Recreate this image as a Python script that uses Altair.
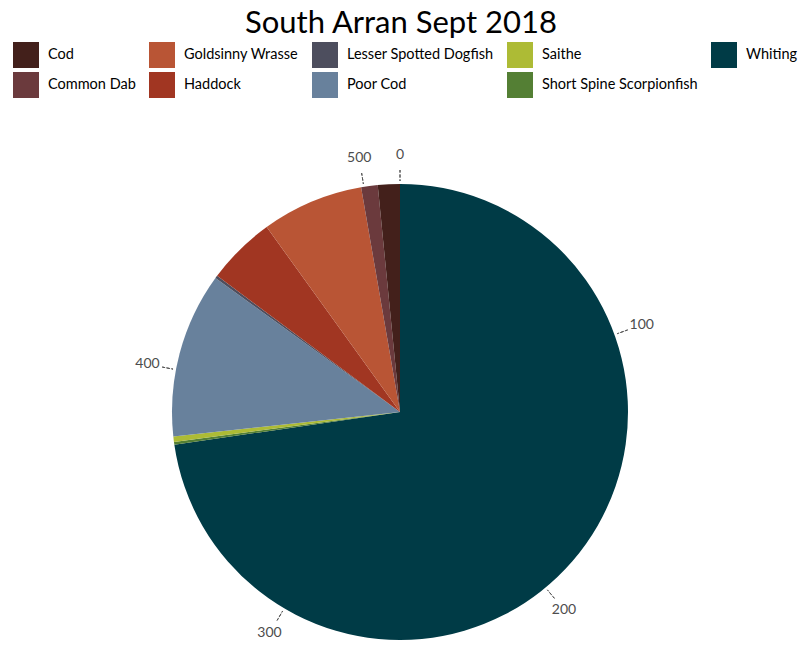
import altair as alt
import pandas as pd

species = ["Whiting", "Short Spine Scorpionfish", "Saithe", "Poor Cod",
           "Lesser Spotted Dogfish", "Haddock", "Goldsinny Wrasse", "Common Dab", "Cod"]
counts = [373, 1, 2, 60, 1, 25, 37, 6, 8]

legend_order = ["Cod", "Common Dab", "Goldsinny Wrasse", "Haddock", "Lesser Spotted Dogfish",
                "Poor Cod", "Saithe", "Short Spine Scorpionfish", "Whiting"]
legend_colors = ["#43201B", "#6B3A3D", "#B95535", "#A13622", "#4D4E5E",
                 "#68819C", "#ADBB35", "#547F34", "#003B46"]

tick_values = [0, 100, 200, 300, 400, 500]

df = pd.DataFrame({"species": species, "count": counts, "ord": list(range(len(species)))})
ticks = pd.DataFrame({"tick": tick_values, "label": [str(t) for t in tick_values]})

total = sum(counts)
theta_scale = alt.Scale(domain=[0, total], nice=False, zero=True)
CX, CY = 400, 370

pie = alt.Chart(df).mark_arc(x=CX, y=CY, outerRadius=228, stroke=None).encode(
    theta=alt.Theta("count:Q", stack=True, scale=theta_scale),
    order=alt.Order("ord:Q", sort="ascending"),
    color=alt.Color("species:N",
                    scale=alt.Scale(domain=legend_order, range=legend_colors),
                    legend=alt.Legend(title=None, orient="none", legendX=13, legendY=0,
                                      columns=5, symbolType="square", symbolSize=676,
                                      symbolStrokeWidth=0, labelFont="Lato", labelFontSize=14.5,
                                      labelColor="#000000", labelOffset=9, columnPadding=13,
                                      rowPadding=4, labelLimit=300)),
)

tick_marks = alt.Chart(ticks).mark_arc(x=CX, y=CY, radius=231, radius2=242,
                                       stroke="#555555", strokeWidth=1,
                                       strokeDash=[3, 2], fill=None).encode(
    theta=alt.Theta("tick:Q", stack=False, scale=theta_scale),
    theta2="tick:Q",
)

tick_labels = alt.Chart(ticks).mark_text(x=CX, y=CY, radius=257, font="Lato", fontSize=14,
                                         color="#4D4D4D", align="center",
                                         baseline="middle").encode(
    theta=alt.Theta("tick:Q", stack=False, scale=theta_scale),
    text="label:N",
)

chart = alt.layer(pie, tick_marks, tick_labels).properties(
    width=802, height=604,
    padding={"top": 42, "left": 0, "right": 0, "bottom": 0},
    autosize=alt.AutoSizeParams(type="none"),
    title=alt.TitleParams("South Arran Sept 2018", font="Lato", fontSize=31,
                          fontWeight="normal", color="#000000", anchor="middle", offset=2),
).configure_view(stroke=None)

chart.save("out.html", embed_options={"renderer": "svg", "actions": False})
